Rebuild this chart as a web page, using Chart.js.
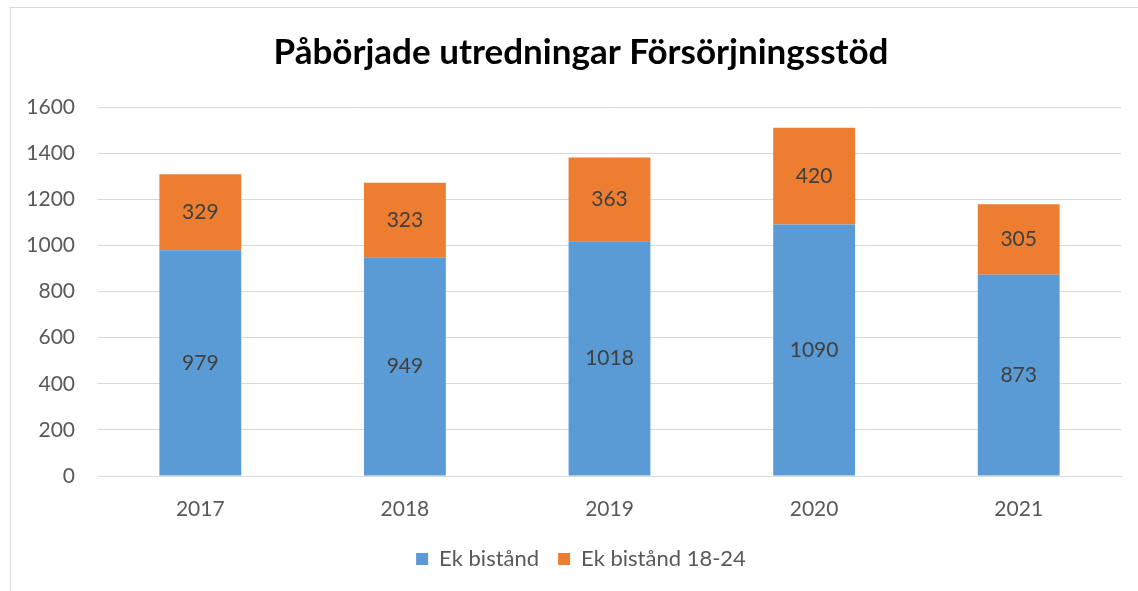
<!DOCTYPE html>
<html>
<head>
<meta charset="utf-8">
<script src="https://cdn.jsdelivr.net/npm/chart.js@4/dist/chart.umd.min.js"></script>
<style>
  html, body { margin: 0; padding: 0; background: #fff; overflow: hidden; width: 1138px; height: 591px; }
  #frame { position: absolute; left: 10px; top: 7px; width: 1160px; height: 620px; border: 1px solid #d9d9d9; box-sizing: border-box; }
  #wrap { position: absolute; left: 11px; top: 8px; width: 1140px; height: 583px; }
</style>
</head>
<body>
<div id="frame"></div>
<div id="wrap"><canvas id="c" width="1140" height="583"></canvas></div>
<script>
const categories = ["2017", "2018", "2019", "2020", "2021"];
const ekBistand = [979, 949, 1018, 1090, 873];
const ekBistand1824 = [329, 323, 363, 420, 305];
const seriesNames = ["Ek bistånd", "Ek bistånd 18-24"];
const yTicks = [0, 200, 400, 600, 800, 1000, 1200, 1400, 1600];

const FONT = '"Lato", "Open Sans", sans-serif';

const valueLabels = {
  id: 'valueLabels',
  afterDatasetsDraw(chart) {
    const ctx = chart.ctx;
    ctx.save();
    ctx.font = '21px ' + FONT;
    ctx.fillStyle = '#404040';
    ctx.textAlign = 'center';
    ctx.textBaseline = 'middle';
    chart.data.datasets.forEach((ds, i) => {
      const meta = chart.getDatasetMeta(i);
      meta.data.forEach((bar, j) => {
        const p = bar.getCenterPoint();
        ctx.fillText(String(ds.data[j]), p.x, p.y);
      });
    });
    ctx.restore();
  }
};

new Chart(document.getElementById('c'), {
  type: 'bar',
  data: {
    labels: categories,
    datasets: [
      { label: seriesNames[0], data: ekBistand, backgroundColor: '#5B9BD5', borderWidth: 0, barPercentage: 0.4, categoryPercentage: 1.0 },
      { label: seriesNames[1], data: ekBistand1824, backgroundColor: '#ED7D31', borderWidth: 0, barPercentage: 0.4, categoryPercentage: 1.0 }
    ]
  },
  options: {
    responsive: false,
    animation: false,
    devicePixelRatio: 1,
    layout: { padding: { left: 0, right: 0, top: 0, bottom: 11 } },
    plugins: {
      title: {
        display: true,
        text: 'Påbörjade utredningar Försörjningsstöd',
        color: '#000',
        font: { family: FONT, size: 35, weight: 'bold', lineHeight: 1.2 },
        padding: { top: 24, bottom: 33 }
      },
      legend: {
        position: 'bottom',
        labels: {
          boxWidth: 12, boxHeight: 12, padding: 19,
          color: '#595959',
          font: { family: FONT, size: 22 },
          generateLabels(chart) {
            return chart.data.datasets.map((d, i) => ({
              text: d.label, fillStyle: d.backgroundColor, strokeStyle: d.backgroundColor,
              lineWidth: 0, hidden: false, datasetIndex: i, fontColor: '#595959'
            }));
          }
        }
      },
      tooltip: { enabled: false }
    },
    scales: {
      x: {
        stacked: true,
        grid: { display: false, drawTicks: false },
        border: { display: true, color: '#d9d9d9', width: 1 },
        ticks: { color: '#595959', font: { family: FONT, size: 21 }, padding: 21 },
        afterFit(s) { s.height = 53; }
      },
      y: {
        stacked: true,
        min: 0, max: 1600,
        afterBuildTicks(s) { s.ticks = yTicks.map(v => ({ value: v })); },
        grid: { color: '#d9d9d9', lineWidth: 1, drawTicks: false },
        border: { display: false },
        ticks: { color: '#595959', font: { family: FONT, size: 21 }, padding: 23, callback: v => String(v) },
        afterFit(s) { s.width = 87; }
      },
      spacer: {
        type: 'linear',
        position: 'right',
        display: true,
        grid: { display: false, drawTicks: false },
        border: { display: false },
        ticks: { display: false },
        afterFit(s) { s.width = 30; }
      }
    }
  },
  plugins: [valueLabels]
});
</script>
</body>
</html>
